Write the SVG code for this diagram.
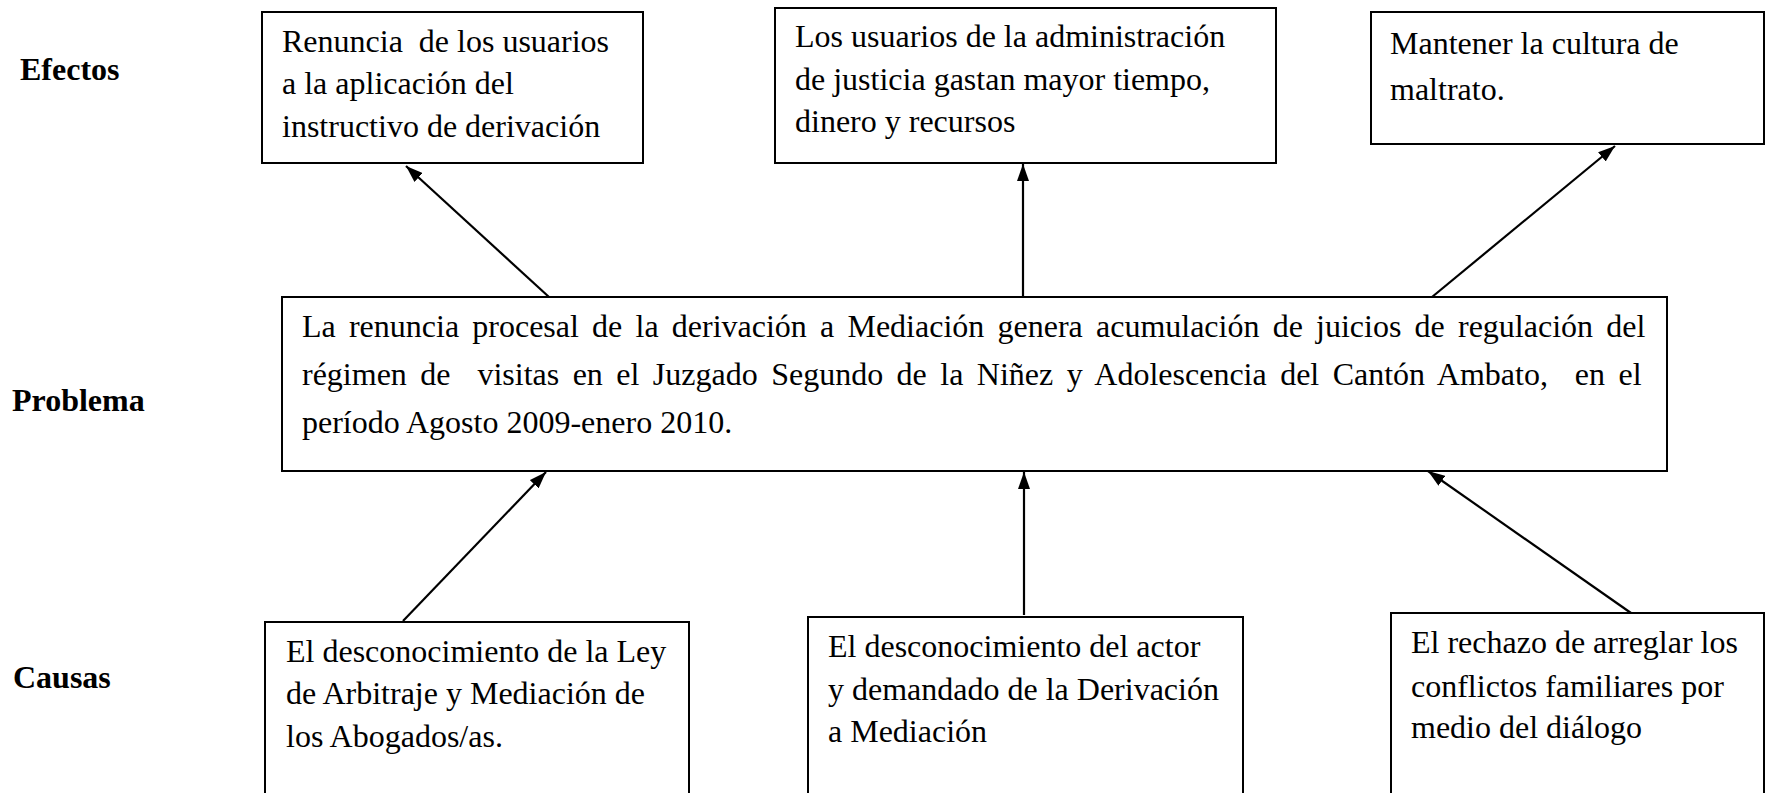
<svg xmlns="http://www.w3.org/2000/svg" width="1766" height="793" viewBox="0 0 1766 793">
<style>
  .box { fill: #ffffff; stroke: #000000; stroke-width: 2; }
  .t { font-family: "Liberation Serif", "Times New Roman", serif; font-size: 32px; fill: #000000; white-space: pre; }
  .lbl { font-family: "Liberation Serif", "Times New Roman", serif; font-size: 32px; font-weight: bold; fill: #000000; }
  .conn { stroke: #000000; stroke-width: 2.2; fill: none; marker-end: url(#arrow); }
</style>
<defs>
  <marker id="arrow" viewBox="0 0 17 12" refX="17" refY="6" markerWidth="17" markerHeight="12" markerUnits="userSpaceOnUse" orient="auto">
    <path d="M0,0 L17,6 L0,12 z" fill="#000000"/>
  </marker>
</defs>
<rect width="1766" height="793" fill="#ffffff"/>

<g id="labels">
  <text class="lbl" x="20" y="80">Efectos</text>
  <text class="lbl" x="12" y="411">Problema</text>
  <text class="lbl" x="13" y="688">Causas</text>
</g>

<g id="connectors">
  <line class="conn" x1="549" y1="297" x2="406" y2="166"/>
  <line class="conn" x1="1023" y1="297" x2="1023" y2="164"/>
  <line class="conn" x1="1432" y1="297" x2="1615" y2="146"/>
  <line class="conn" x1="403" y1="621" x2="546" y2="472"/>
  <line class="conn" x1="1024" y1="615" x2="1024" y2="472"/>
  <line class="conn" x1="1631" y1="613" x2="1428" y2="471"/>
</g>

<g id="efecto1">
  <rect class="box" x="262" y="12" width="381" height="151"/>
  <text class="t" x="282" y="52">Renuncia  de los usuarios</text>
  <text class="t" x="282" y="94">a la aplicación del</text>
  <text class="t" x="282" y="137">instructivo de derivación</text>
</g>

<g id="efecto2">
  <rect class="box" x="775" y="8" width="501" height="155"/>
  <text class="t" x="795" y="47">Los usuarios de la administración</text>
  <text class="t" x="795" y="90">de justicia gastan mayor tiempo,</text>
  <text class="t" x="795" y="132">dinero y recursos</text>
</g>

<g id="efecto3">
  <rect class="box" x="1371" y="12" width="393" height="132"/>
  <text class="t" x="1390" y="54">Mantener la cultura de</text>
  <text class="t" x="1390" y="100">maltrato.</text>
</g>

<g id="problema">
  <rect class="box" x="282" y="297" width="1385" height="174"/>
  <text class="t" x="302" y="337" word-spacing="5.2">La renuncia procesal de la derivación a Mediación genera acumulación de juicios de regulación del</text>
  <text class="t" x="302" y="385" word-spacing="5.45">régimen de  visitas en el Juzgado Segundo de la Niñez y Adolescencia del Cantón Ambato,  en el</text>
  <text class="t" x="302" y="433">período Agosto 2009-enero 2010.</text>
</g>

<g id="causa1">
  <rect class="box" x="265" y="622" width="424" height="200"/>
  <text class="t" x="286" y="662">El desconocimiento de la Ley</text>
  <text class="t" x="286" y="704">de Arbitraje y Mediación de</text>
  <text class="t" x="286" y="747">los Abogados/as.</text>
</g>

<g id="causa2">
  <rect class="box" x="808" y="617" width="435" height="200"/>
  <text class="t" x="828" y="657">El desconocimiento del actor</text>
  <text class="t" x="828" y="700">y demandado de la Derivación</text>
  <text class="t" x="828" y="742">a Mediación</text>
</g>

<g id="causa3">
  <rect class="box" x="1391" y="613" width="373" height="200"/>
  <text class="t" x="1411" y="653">El rechazo de arreglar los</text>
  <text class="t" x="1411" y="697">conflictos familiares por</text>
  <text class="t" x="1411" y="738">medio del diálogo</text>
</g>
</svg>
